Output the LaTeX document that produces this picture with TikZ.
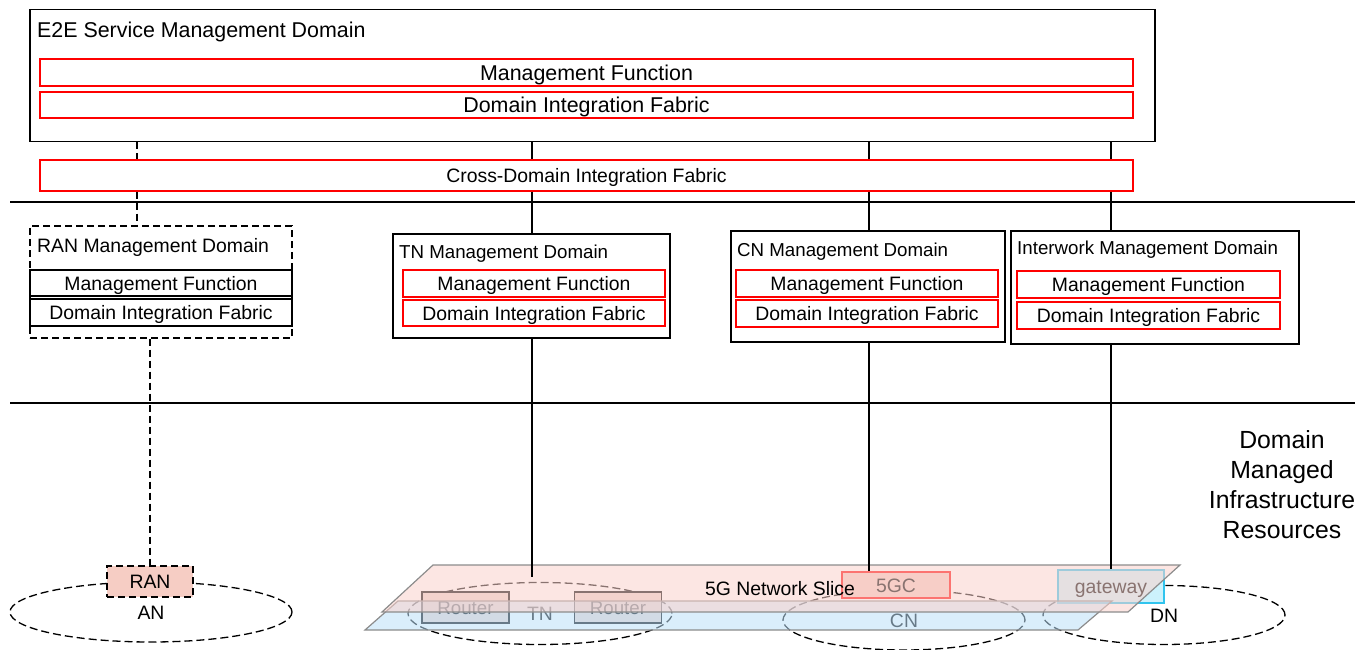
\documentclass[tikz,border=0pt]{standalone}
\usepackage{fontspec}
\setmainfont{Liberation Sans}
\usetikzlibrary{shapes.geometric}
\definecolor{slicepink}{HTML}{FAD2CC}
\definecolor{sliceblue}{HTML}{BCE0F8}
\definecolor{ranpink}{HTML}{F6CDC4}
\definecolor{corepink}{HTML}{F5CBC3}
\definecolor{routerfill}{HTML}{EDD5CF}
\definecolor{gwfill}{HTML}{CCF2FC}
\definecolor{gwedge}{HTML}{30C4EE}
\begin{document}
\begin{tikzpicture}
  [x=1pt,y=-1pt,
   every node/.style={inner sep=0pt,text height=14pt,text depth=0pt,font=\fontsize{19.4}{23}\selectfont},
   bigtext/.style={text height=15.3pt,font=\fontsize{21.4}{25}\selectfont},
   titletext/.style={text height=13.5pt,font=\fontsize{18.7}{22}\selectfont,anchor=west},
   dombox/.style={draw,line width=1.3pt,fill=white},
   fnbox/.style={draw=red,line width=1.3pt,fill=white},
   blkbox/.style={draw,line width=1.3pt,fill=white},
   zone/.style={ellipse,draw,line width=1.3pt,dash pattern=on 8pt off 4pt},
   slice/.style={draw=gray!90,line width=1.2pt,fill opacity=.55},
   conn/.style={line width=1.2pt}]
  \useasboundingbox (0,0) rectangle (1369,650);

  % layer separators
  \coordinate (sepL1) at (10,202);
  \coordinate (sepR1) at (1355,202);
  \coordinate (sepL2) at (10,403);
  \coordinate (sepR2) at (1355,403);
  \draw[conn] (sepL1) -- (sepR1);
  \draw[conn] (sepL2) -- (sepR2);

  % E2E service management domain
  \node[dombox,minimum width=1125,minimum height=132] (e2e) at (592.5,75.5) {};
  \node[bigtext,anchor=west] (e2etitle) at (37,30) {E2E Service Management Domain};
  \node[fnbox,bigtext,minimum width=1093,minimum height=27] (e2emf) at (586.5,72.5) {Management Function};
  \node[fnbox,bigtext,minimum width=1093,minimum height=26] (e2edif) at (586.5,105) {Domain Integration Fabric};
  \node[fnbox,minimum width=1093,minimum height=31] (cdif) at (586.5,175.5) {Cross-Domain Integration Fabric};

  % management domains
  \node[dombox,dash pattern=on 7pt off 4pt,minimum width=262,minimum height=112] (ranmd) at (161,282) {};
  \node[anchor=west] (rantitle) at (37,245) {RAN Management Domain};
  \node[blkbox,minimum width=262,minimum height=26] (ranmf) at (161,283) {Management Function};
  \node[blkbox,minimum width=262,minimum height=27] (randif) at (161,312.5) {Domain Integration Fabric};

  \node[dombox,minimum width=277,minimum height=104] (tnmd) at (531.5,286) {};
  \node[titletext] (tntitle) at (399,252) {TN Management Domain};
  \node[fnbox,minimum width=262,minimum height=27] (tnmf) at (534,283.5) {Management Function};
  \node[fnbox,minimum width=262,minimum height=26] (tndif) at (534,313) {Domain Integration Fabric};

  \node[dombox,minimum width=274,minimum height=111] (cnmd) at (868,286.5) {};
  \node[titletext] (cntitle) at (737,250) {CN Management Domain};
  \node[fnbox,minimum width=262,minimum height=27] (cnmf) at (867,283.5) {Management Function};
  \node[fnbox,minimum width=262,minimum height=27] (cndif) at (867,313.5) {Domain Integration Fabric};

  \node[dombox,minimum width=288,minimum height=113] (iwmd) at (1155,287.5) {};
  \node[titletext] (iwtitle) at (1017,248) {Interwork Management Domain};
  \node[fnbox,minimum width=263,minimum height=27] (iwmf) at (1148.5,284.5) {Management Function};
  \node[fnbox,minimum width=263,minimum height=27] (iwdif) at (1148.5,315.5) {Domain Integration Fabric};

  \node[align=center,text height=108pt,text depth=0pt,font=\fontsize{24.8}{30}\selectfont] (dmir) at (1282,484)
    {Domain\\Managed\\Infrastructure\\Resources};

  % infrastructure resources
  \node[zone,minimum width=282,minimum height=60] (an) at (151,612) {AN};
  \node[zone,minimum width=264,minimum height=62] (tn) at (540,613.5) {TN};
  \node[zone,minimum width=242,minimum height=60] (cn) at (904,620) {CN};
  \node[zone,minimum width=242,minimum height=59] (dn) at (1164,615) {DN};

  \node[draw,line width=1.3pt,dash pattern=on 7pt off 4pt,fill=ranpink,minimum width=86,minimum height=31] (ran) at (150,581.5) {RAN};
  \node[draw,line width=1.3pt,fill=routerfill,minimum width=87,minimum height=31,text height=13.5pt,font=\fontsize{18.7}{22}\selectfont] (rt1) at (465.5,607.5) {Router};
  \node[draw,line width=1.3pt,fill=routerfill,minimum width=87,minimum height=31,text height=13.5pt,font=\fontsize{18.7}{22}\selectfont] (rt2) at (618,607.5) {Router};
  \node[draw=red,line width=1.3pt,fill=corepink,minimum width=108,minimum height=26] (core) at (896,585) {5GC};
  \node[draw=gwedge,line width=1.3pt,fill=gwfill,minimum width=106,minimum height=33] (gw) at (1111,586.5) {gateway};

  % network slices
  \path[slice,fill=sliceblue] (398,601) -- (1112,601) -- (1078,630) -- (365,630) -- cycle;
  \path[slice,fill=slicepink] (433,565) -- (1180,565) -- (1128,612) -- (382,612) -- cycle;
  \node (slicelbl) at (780,588) {5G Network Slice};

  % connectors
  \coordinate (xran) at (137,0);
  \coordinate (xtn) at (532,0);
  \coordinate (xcn) at (869,0);
  \coordinate (xiw) at (1111,0);
  \coordinate (tnend) at (532,577);
  \draw[conn,dash pattern=on 7pt off 4pt] (e2e.south -| xran) -- (cdif.north -| xran);
  \draw[conn,dash pattern=on 7pt off 4pt] (cdif.south -| xran) -- (ranmd.north -| xran);
  \foreach \xc/\dom in {xtn/tnmd,xcn/cnmd,xiw/iwmd}
  {
    \draw[conn] (e2e.south -| \xc) -- (cdif.north -| \xc);
    \draw[conn] (cdif.south -| \xc) -- (\dom.north -| \xc);
  }
  \draw[conn,dash pattern=on 7pt off 4pt] (ranmd.south -| ran.north) -- (ran.north);
  \draw[conn] (tnmd.south -| xtn) -- (tnend);
  \draw[conn] (cnmd.south -| xcn) -- (core.north -| xcn);
  \draw[conn] (iwmd.south -| gw.north) -- (gw.north);
\end{tikzpicture}
\end{document}
